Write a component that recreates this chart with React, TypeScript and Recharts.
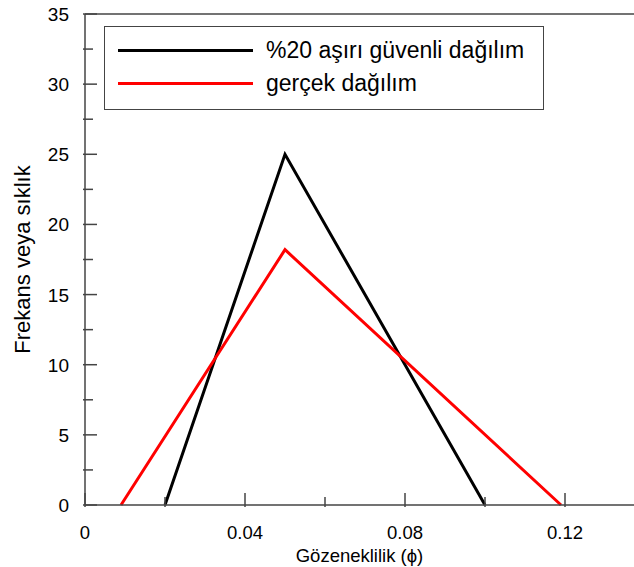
import { LineChart, Line, XAxis, YAxis, ReferenceLine } from 'recharts';

// %20 aşırı güvenli dağılım
const asiriX = [0.02, 0.05, 0.1];
const asiriY = [0, 25, 0];
// gerçek dağılım
const gercekX = [0.009, 0.05, 0.119];
const gercekY = [0, 18.2, 0];

const seriesNames = ['%20 aşırı güvenli dağılım', 'gerçek dağılım'];
const seriesColors = ['#000', '#ff0000'];

const xTicks = [0, 0.02, 0.04, 0.06, 0.08, 0.1, 0.12];
const xLabels = ['0', '', '0.04', '', '0.08', '', '0.12'];
const yTicks = [0, 2.5, 5, 7.5, 10, 12.5, 15, 17.5, 20, 22.5, 25, 27.5, 30, 32.5, 35];

const FONT = '"Liberation Sans", Arial, sans-serif';
const AXIS = '#444';

const asiri = asiriX.map((x, i) => ({ x, y: asiriY[i] }));
const gercek = gercekX.map((x, i) => ({ x, y: gercekY[i] }));

const XTick = (props: any) => {
    const { x, y, payload } = props;
    const i = xTicks.indexOf(payload.value);
    const label = i >= 0 ? xLabels[i] : '';
    const major = label !== '';
    return (
        <g>
            <line x1={x} x2={x} y1={y} y2={y - (major ? 14 : 10)} stroke={AXIS} strokeWidth={1.5} />
            <text x={x} y={y + 32} textAnchor="middle" fontSize={18.5} fill="#000" fontFamily={FONT}>
                {label}
            </text>
        </g>
    );
};

const YTick = (props: any) => {
    const { x, y, payload } = props;
    const major = payload.value % 5 === 0;
    return (
        <g>
            <line x1={x} x2={x + (major ? 14 : 10)} y1={y} y2={y} stroke={AXIS} strokeWidth={1.5} />
            <text x={x - 14} y={y + 7} textAnchor="end" fontSize={19} fill="#000" fontFamily={FONT}>
                {major ? payload.value : ''}
            </text>
        </g>
    );
};

export default function App() {
    return (
        <div style={{ position: 'absolute', left: 0, top: 0, width: 634, height: 567, background: '#fff' }}>
            <LineChart width={634} height={567} margin={{ top: 14, right: 0, bottom: 0, left: 25 }}>
                <XAxis
                    type="number"
                    dataKey="x"
                    domain={[0, 0.13725]}
                    ticks={xTicks}
                    allowDataOverflow
                    height={62}
                    tickSize={0}
                    tickLine={false}
                    tick={<XTick />}
                    stroke={AXIS}
                    strokeWidth={1.5}
                    label={{ value: 'Gözeneklilik (ϕ)', position: 'insideBottom', offset: 5, fontSize: 18.5, fill: '#000', fontFamily: FONT }}
                />
                <YAxis
                    type="number"
                    dataKey="y"
                    domain={[0, 35]}
                    ticks={yTicks}
                    width={60}
                    tickSize={0}
                    tickLine={false}
                    tick={<YTick />}
                    stroke={AXIS}
                    strokeWidth={1.5}
                    label={{ value: 'Frekans veya sıklık', angle: -90, position: 'insideLeft', offset: -3, fontSize: 22, fill: '#000', fontFamily: FONT, style: { textAnchor: 'middle' } }}
                />
                <ReferenceLine y={35} stroke={AXIS} strokeWidth={1.5} />
                <Line
                    data={asiri}
                    dataKey="y"
                    name={seriesNames[0]}
                    stroke={seriesColors[0]}
                    strokeWidth={3}
                    dot={false}
                    isAnimationActive={false}
                />
                <Line
                    data={gercek}
                    dataKey="y"
                    name={seriesNames[1]}
                    stroke={seriesColors[1]}
                    strokeWidth={3}
                    dot={false}
                    isAnimationActive={false}
                />
            </LineChart>
            <div
                style={{
                    position: 'absolute',
                    left: 104,
                    top: 26,
                    width: 440,
                    height: 84,
                    border: '1.5px solid #444',
                    background: '#fff',
                    boxSizing: 'border-box',
                    fontFamily: FONT,
                    fontSize: 23,
                    paddingTop: 7,
                }}
            >
                {seriesNames.map((name, i) => (
                    <div key={name} style={{ display: 'flex', alignItems: 'center', height: 33 }}>
                        <div style={{ marginLeft: 13, width: 135, height: 3, background: seriesColors[i] }} />
                        <span style={{ marginLeft: 13, color: '#000' }}>{name}</span>
                    </div>
                ))}
            </div>
        </div>
    );
}
